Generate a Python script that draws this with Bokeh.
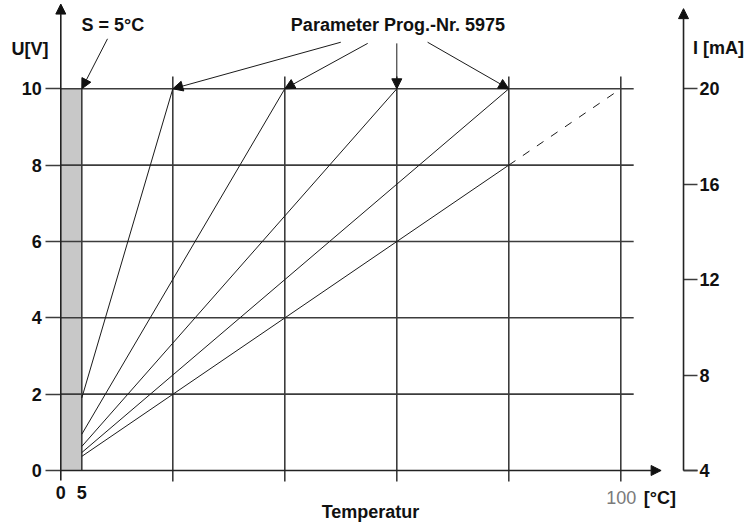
from bokeh.plotting import figure
from bokeh.models import Range1d, LinearAxis, FixedTicker, Arrow, NormalHead, Label, Grid
from bokeh.embed import file_html
from bokeh.resources import INLINE

# ---- data ----
s_pos = 3.75                      # where the "5" (S = 5 °C) sits on the drawn temperature axis
bottom_ticks = [0, s_pos]
bottom_tick_labels = {0: "0", s_pos: "5"}
v_ticks = [0, 2, 4, 6, 8, 10]
ma_ticks = [4, 8, 12, 16, 20]
t_grid = [20, 40, 60, 80, 100]
h_grid = [2, 4, 6, 8, 10]
line_start_v = [1.9, 0.95, 0.63, 0.47, 0.37]
line_end_t = [20, 40, 60, 80, 80]
line_end_v = [10, 10, 10, 10, 8]
dash_t = [80, 100]
dash_v = [8, 10]
param_targets_t = [20, 40, 60, 80]
param_targets_v = [10, 10, 10, 10]

# ---- layout ----
W, H = 746, 524
X0_PX, PX_PER_C = 60.3, 5.6       # canvas x of 0 °C, px per °C
Y0_PX, PX_PER_V = 470.0, 38.17    # canvas y of 0 V, px per V
x_rng = (-X0_PX / PX_PER_C, (W - X0_PX) / PX_PER_C)
y_rng = ((Y0_PX - H) / PX_PER_V, Y0_PX / PX_PER_V)
RIGHT_AX = 111.2

FONT = "Liberation Sans"
GRID = "#3c3c3c"
INK = "#111111"

p = figure(width=W, height=H,
           x_range=Range1d(*x_rng), y_range=Range1d(*y_rng),
           output_backend="svg", toolbar_location=None,
           x_axis_location=None, y_axis_location=None,
           min_border_left=0, min_border_right=0, min_border_top=0, min_border_bottom=0)
p.outline_line_color = None
p.background_fill_color = "white"
p.border_fill_color = "white"
p.center = [r for r in p.center if not isinstance(r, Grid)]


def style_axis(ax, tick_out, standoff, tick_color):
    ax.major_tick_out = tick_out
    ax.major_tick_in = 0
    ax.minor_tick_line_color = None
    ax.major_tick_line_color = tick_color
    ax.major_tick_line_width = 1.6
    ax.axis_line_color = None
    ax.major_label_text_font = FONT
    ax.major_label_text_font_style = "bold"
    ax.major_label_text_font_size = "18px"
    ax.major_label_text_color = INK
    ax.major_label_standoff = standoff


# left axis U[V] at 0 °C
ya = LinearAxis(ticker=FixedTicker(ticks=v_ticks), fixed_location=0)
style_axis(ya, 15, 4, GRID)
p.add_layout(ya, "left")

# bottom axis (labels 0 and 5) at 0 V
xa = LinearAxis(ticker=FixedTicker(ticks=bottom_ticks), fixed_location=0,
                major_label_overrides=bottom_tick_labels)
style_axis(xa, 0, 15, None)
p.add_layout(xa, "below")

# right axis I [mA]
p.extra_y_ranges = {"ma": Range1d(4 + 1.6 * y_rng[0], 4 + 1.6 * y_rng[1])}
ra = LinearAxis(y_range_name="ma", ticker=FixedTicker(ticks=ma_ticks), fixed_location=RIGHT_AX)
style_axis(ra, 14, 2, GRID)
p.add_layout(ra, "right")

# shaded band 0..S
p.quad(left=[0], right=[s_pos], bottom=[0], top=[10], fill_color="#c8c8c8", line_color=None)

# grid lines
p.segment(x0=[0] * len(h_grid), y0=h_grid, x1=[102.3] * len(h_grid), y1=h_grid,
          line_color=GRID, line_width=1.6)
p.segment(x0=t_grid, y0=[-0.288] * len(t_grid), x1=t_grid, y1=[10.32] * len(t_grid),
          line_color=GRID, line_width=1.6)
p.segment(x0=[s_pos], y0=[0], x1=[s_pos], y1=[10], line_color=GRID, line_width=1.6)

# characteristic lines
p.segment(x0=[s_pos] * len(line_start_v), y0=line_start_v, x1=line_end_t, y1=line_end_v,
          line_color="#1a1a1a", line_width=1)
p.line(dash_t, dash_v, line_color="#1a1a1a", line_width=1, line_dash="8 9")

# axis lines with arrows
def axis_arrow(x0, y0, x1, y1):
    p.add_layout(Arrow(x_start=x0, y_start=y0, x_end=x1, y_end=y1, line_color="#222222", line_width=1.6,
                       end=NormalHead(size=10, fill_color=INK, line_color=INK)))

axis_arrow(0, 0, 107.2, 0)
axis_arrow(0, -0.262, 0, 12.22)
p.segment(x0=[RIGHT_AX], y0=[0], x1=[RIGHT_AX + 2.5], y1=[0], line_color=GRID, line_width=1.6)
axis_arrow(RIGHT_AX, 0, RIGHT_AX, 12.10)

# annotation arrows
def pointer(x0, y0, x1, y1):
    p.add_layout(Arrow(x_start=x0, y_start=y0, x_end=x1, y_end=y1, line_color="#1a1a1a", line_width=1,
                       end=NormalHead(size=10, fill_color=INK, line_color=INK)))

pointer(8.34, 11.31, s_pos, 10)
tails_x = [50.0, 54.8, 60.0, 65.5]
tails_y = [11.22, 11.19, 11.19, 11.22]
for tx, ty, hx, hy in zip(tails_x, tails_y, param_targets_t, param_targets_v):
    pointer(tx, ty, hx, hy)


def lab(text, x, y, align="left", bold=True, color=INK):
    p.add_layout(Label(x=x, y=y, text=text, text_font=FONT, text_font_size="18px",
                       text_font_style="bold" if bold else "normal", text_color=color,
                       text_align=align, text_baseline="middle"))

lab("U[V]", -8.80, 11.03)
lab("S = 5°C", 3.70, 11.66)
lab("Parameter Prog.-Nr. 5975", 60.2, 11.68, align="center")
lab("I [mA]", 122.0, 11.08, align="right")
lab("100", 100.1, -0.72, align="center", bold=False, color="#7a7a7a")
lab("[°C]", 104.1, -0.72)
lab("Temperatur", 55.3, -1.087, align="center")

open("out.html", "w").write(file_html(p, INLINE))
